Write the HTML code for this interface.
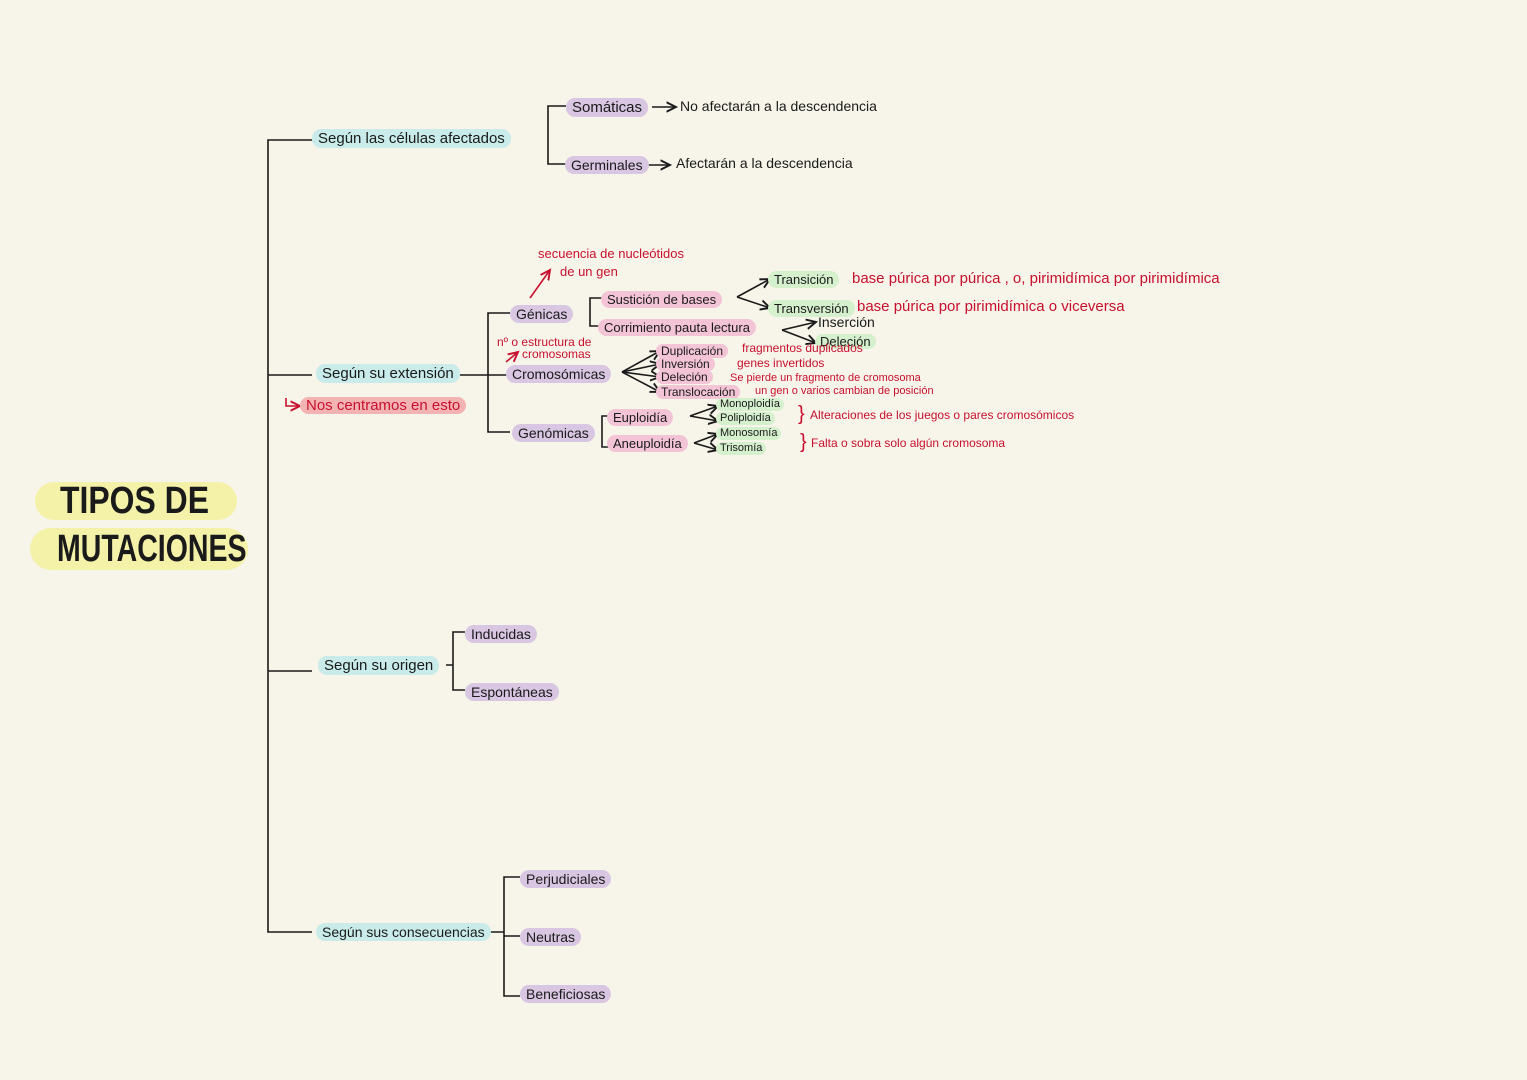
<!DOCTYPE html>
<html><head><meta charset="utf-8"><style>
html,body{margin:0;padding:0}
body{width:1527px;height:1080px;background:#f7f4e9;position:relative;overflow:hidden;font-family:"Liberation Sans",sans-serif;color:#1a1a1a}
.t{position:absolute;white-space:nowrap;line-height:1;font-size:14px}
.p{border-radius:9px;padding:2px 6px}
.cy{background:#c9ecea}.pu{background:#d8c6e2}.pk{background:#f3c3d6}.gr{background:#d5f0cd}
.r{color:#c8102e}
svg{position:absolute;left:0;top:0}
</style></head><body>
<svg width="1527" height="1080" fill="none" stroke="#1a1a1a" stroke-width="1.6">
<defs><marker id="a" markerWidth="8" markerHeight="8" refX="6" refY="4" orient="auto"><path d="M0,1 L6,4 L0,7" stroke="#1a1a1a" fill="none" stroke-width="1.2"/></marker>
<marker id="ar" markerWidth="8" markerHeight="8" refX="6" refY="4" orient="auto"><path d="M0,1 L6,4 L0,7" stroke="#c8102e" fill="none" stroke-width="1.2"/></marker></defs>
<path d="M312,140 H268 V932 H312 M268,375 H312 M268,671 H312"/>
<path d="M566,106 H548 V164 H566"/>
<path d="M652,107 H676" marker-end="url(#a)"/><path d="M648,165 H670" marker-end="url(#a)"/>
<path d="M510,313 H488 V432 H510 M460,375 H508"/>
<path d="M603,298 H590 V326 H602"/>
<path d="M737,297 L770,308" marker-end="url(#a)"/>
<path d="M737,297 L770,279" marker-end="url(#a)"/>
<path d="M782,330 L816,322" marker-end="url(#a)"/><path d="M782,330 L816,343" marker-end="url(#a)"/>
<path d="M622,372 L660,351" marker-end="url(#a)"/><path d="M622,372 L660,364" marker-end="url(#a)"/>
<path d="M622,372 L660,377" marker-end="url(#a)"/><path d="M622,372 L660,392" marker-end="url(#a)"/>
<path d="M609,416 H602 V447 H609"/>
<path d="M690,416 L718,406" marker-end="url(#a)"/><path d="M690,416 L718,421" marker-end="url(#a)"/>
<path d="M694,443 L718,434" marker-end="url(#a)"/><path d="M694,443 L718,450" marker-end="url(#a)"/>
<path d="M446,665 H453 M465,632 H453 V690 H465"/>
<path d="M485,932 H504 M520,877 H504 V996 H520 M504,936 H520"/>
<path d="M530,298 L550,270" stroke="#c8102e" marker-end="url(#ar)"/>
<path d="M506,362 L518,352" stroke="#c8102e" marker-end="url(#ar)"/>
<path d="M286,398 V406 H300" stroke="#c8102e" marker-end="url(#ar)"/>
</svg>
<div style="position:absolute;left:35px;top:482px;width:202px;height:38px;background:#f4f1a8;border-radius:19px"></div>
<div style="position:absolute;left:30px;top:528px;width:218px;height:42px;background:#f4f1a8;border-radius:21px"></div>
<div class="t" style="left:60px;top:482px;font-size:38px;font-weight:bold;transform:scaleX(0.84);transform-origin:0 0">TIPOS DE</div>
<div class="t" style="left:57px;top:530px;font-size:38px;font-weight:bold;transform:scaleX(0.75);transform-origin:0 0">MUTACIONES</div>

<div class="t p cy" style="left:312px;top:129px;font-size:15px">Según las células afectados</div>
<div class="t p cy" style="left:316px;top:364px;font-size:15px">Según su extensión</div>
<div class="t p r" style="left:300px;top:397px;background:#f4b3b3;font-size:15px;padding:1px 6px">Nos centramos en esto</div>
<div class="t p cy" style="left:318px;top:656px;font-size:15px">Según su origen</div>
<div class="t p cy" style="left:316px;top:923px;font-size:14px">Según sus consecuencias</div>

<div class="t p pu" style="left:566px;top:98px;font-size:15px">Somáticas</div>
<div class="t" style="left:680px;top:99px">No afectarán a la descendencia</div>
<div class="t p pu" style="left:565px;top:156px">Germinales</div>
<div class="t" style="left:676px;top:156px">Afectarán a la descendencia</div>

<div class="t r" style="left:538px;top:247px;font-size:13px">secuencia de nucleótidos</div>
<div class="t r" style="left:560px;top:265px;font-size:13px">de un gen</div>
<div class="t p pu" style="left:510px;top:305px">Génicas</div>
<div class="t r" style="left:497px;top:336px;font-size:12px">nº o estructura de</div>
<div class="t r" style="left:522px;top:348px;font-size:12px">cromosomas</div>
<div class="t p pu" style="left:506px;top:365px">Cromosómicas</div>
<div class="t p pu" style="left:512px;top:424px">Genómicas</div>

<div class="t p pk" style="left:601px;top:291px;font-size:13px">Sustición de bases</div>
<div class="t p pk" style="left:598px;top:319px;font-size:13px">Corrimiento pauta lectura</div>
<div class="t p gr" style="left:768px;top:271px;font-size:13px">Transición</div>
<div class="t p gr" style="left:768px;top:300px;font-size:13px">Transversión</div>
<div class="t r" style="left:852px;top:271px;font-size:15px">base púrica por púrica , o, pirimidímica por pirimidímica</div>
<div class="t r" style="left:857px;top:299px;font-size:15px">base púrica por pirimidímica o viceversa</div>
<div class="t" style="left:818px;top:315px;font-size:14px">Inserción</div>
<div class="t p gr" style="left:815px;top:334px;font-size:13px;padding:1px 5px">Deleción</div>

<div class="t p pk" style="left:656px;top:344px;font-size:12px;padding:1px 5px">Duplicación</div>
<div class="t p pk" style="left:656px;top:357px;font-size:12px;padding:1px 5px">Inversión</div>
<div class="t p pk" style="left:656px;top:370px;font-size:12px;padding:1px 5px">Deleción</div>
<div class="t p pk" style="left:656px;top:385px;font-size:12px;padding:1px 5px">Translocación</div>
<div class="t r" style="left:742px;top:342px;font-size:12px">fragmentos duplicados</div>
<div class="t r" style="left:737px;top:357px;font-size:12px">genes invertidos</div>
<div class="t r" style="left:730px;top:373px;font-size:11px">Se pierde un fragmento de cromosoma</div>
<div class="t r" style="left:755px;top:386px;font-size:11px">un gen o varios cambian de posición</div>

<div class="t p pk" style="left:607px;top:409px;font-size:13px">Euploidía</div>
<div class="t p pk" style="left:607px;top:435px;font-size:13px">Aneuploidía</div>
<div class="t p gr" style="left:716px;top:398px;font-size:11px;padding:1px 4px">Monoploidía</div>
<div class="t p gr" style="left:716px;top:412px;font-size:11px;padding:1px 4px">Poliploidía</div>
<div class="t p gr" style="left:716px;top:427px;font-size:11px;padding:1px 4px">Monosomía</div>
<div class="t p gr" style="left:716px;top:442px;font-size:11px;padding:1px 4px">Trisomía</div>
<div class="t r" style="left:798px;top:404px;font-size:20px">}</div>
<div class="t r" style="left:800px;top:432px;font-size:20px">}</div>
<div class="t r" style="left:810px;top:409px;font-size:12px">Alteraciones de los juegos o pares cromosómicos</div>
<div class="t r" style="left:811px;top:437px;font-size:12px">Falta o sobra solo algún cromosoma</div>

<div class="t p pu" style="left:465px;top:625px">Inducidas</div>
<div class="t p pu" style="left:465px;top:683px">Espontáneas</div>
<div class="t p pu" style="left:520px;top:870px">Perjudiciales</div>
<div class="t p pu" style="left:520px;top:928px">Neutras</div>
<div class="t p pu" style="left:520px;top:985px">Beneficiosas</div>
</body></html>
